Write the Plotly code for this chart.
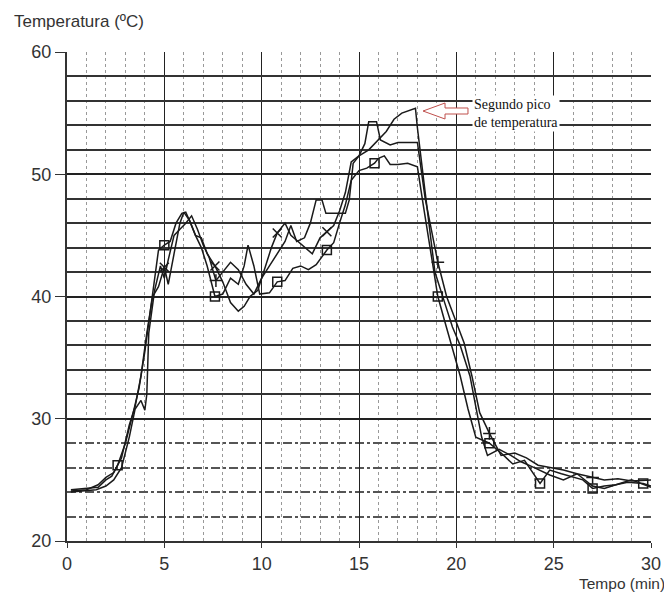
import plotly.graph_objects as go

# Curva con cuadrados
t_cuad = [0.2, 1.0, 1.6, 2.0, 2.3, 2.6, 3.0, 3.4, 3.7, 4.0, 4.3, 4.5, 4.7, 5.0, 5.3, 5.6, 5.9, 6.1, 6.3, 6.6,
          6.9, 7.2, 7.6, 8.0, 8.4, 8.8, 9.1, 9.3, 9.6, 9.9, 10.4, 10.8, 11.2, 11.6, 12.0, 12.4, 12.8, 13.35,
          13.7, 14.0, 14.3, 14.6, 15.0, 15.4, 15.8, 16.0, 16.3, 16.6, 17.0, 17.5, 18.0, 18.3, 18.7, 19.05,
          19.4, 19.8, 20.2, 20.6, 21.0, 21.7, 22.3, 22.9, 23.5, 24.3, 24.8, 25.4, 26.0, 26.5, 27.0, 27.6,
          28.2, 28.8, 29.6, 30.0]
temp_cuad = [24.2, 24.3, 24.4, 25.0, 25.3, 26.2, 28.0, 30.5, 32.5, 35.5, 39.0, 41.5, 43.8, 44.2, 44.5, 46.0, 46.8, 46.9, 46.2, 45.0,
             44.0, 42.5, 40.0, 40.2, 41.5, 41.0, 42.5, 44.2, 42.5, 40.2, 40.3, 41.2, 41.3, 42.3, 42.5, 42.2, 42.6, 43.8,
             44.4, 46.0, 47.5, 49.5, 50.3, 50.5, 50.9, 51.3, 51.5, 50.8, 50.8, 50.9, 50.6, 47.5, 43.5, 40.0,
             38.0, 35.8, 33.5, 30.8, 28.5, 28.0, 27.2, 26.3, 26.6, 24.7, 25.8, 25.5, 25.2, 25.0, 24.3, 24.5,
             24.6, 24.8, 24.7, 24.5]

# Curva con aspas
t_aspa = [0.2, 1.0, 1.6, 2.0, 2.4, 2.8, 3.2, 3.5, 3.8, 4.1, 4.4, 4.7, 5.0, 5.2, 5.5, 5.8, 6.0, 6.3, 6.6, 6.9,
          7.2, 7.6, 8.0, 8.4, 8.8, 9.1, 9.4, 9.8, 10.2, 10.5, 10.8, 11.2, 11.5, 11.8, 12.2, 12.6, 13.0, 13.35, 13.7, 14.0,
          14.3, 14.6, 15.0, 15.5, 16.0, 16.4, 16.8, 17.2, 17.9, 18.0, 18.4, 18.9, 19.4, 19.8, 20.2, 20.7, 21.0, 21.3, 21.6, 22.2,
          22.8, 23.3, 24.0, 24.8, 25.5, 26.2, 27.0, 27.6, 28.4, 29.0, 30.0]
temp_aspa = [24.1, 24.2, 24.6, 25.2, 25.6, 26.8, 29.5, 31.0, 33.5, 37.0, 40.0, 40.8, 42.4, 41.0, 43.5, 46.0, 46.9, 46.2, 45.0, 44.8,
             43.5, 42.5, 41.2, 39.5, 38.8, 39.2, 40.0, 40.5, 42.5, 44.0, 45.2, 46.0, 45.0, 44.6, 44.0, 43.5, 44.8, 45.3, 45.8, 47.0,
             48.5, 51.0, 51.5, 52.0, 52.8, 53.5, 54.5, 55.0, 55.4, 53.8, 48.5, 42.0, 39.5, 37.5, 36.0, 33.5, 31.0, 28.5, 27.0, 27.5,
             27.0, 26.5, 26.0, 25.4, 25.0, 25.5, 24.5, 24.3, 24.7, 25.0, 24.4]

# Curva con cruces
t_cruz = [0.2, 1.0, 1.5, 2.0, 2.4, 2.8, 3.2, 3.5, 3.8, 4.0, 4.1, 4.2, 4.5, 4.8, 5.0, 5.2, 5.5, 5.8, 6.1, 6.4,
          6.7, 7.0, 7.3, 7.65, 8.0, 8.4, 8.8, 9.2, 9.6, 10.0, 10.4, 10.8, 11.2, 11.5, 11.8, 12.2, 12.5, 12.8, 13.1, 13.3,
          14.3, 14.5, 14.7, 15.0, 15.3, 15.5, 15.9, 16.1, 16.6, 17.0, 17.5, 18.0, 18.4, 19.05, 19.5, 20.0, 20.4, 20.8, 21.2, 21.7,
          22.3, 23.0, 23.6, 24.2, 24.8, 25.5, 26.2, 27.0, 27.6, 28.3, 29.0, 30.0]
temp_cruz = [24.0, 24.1, 24.2, 24.5, 25.0, 26.0, 28.5, 30.8, 31.5, 30.7, 32.0, 37.0, 40.5, 42.5, 41.5, 43.0, 45.0, 45.5, 46.0, 46.6,
             45.5, 44.2, 43.2, 41.3, 42.0, 42.8, 42.2, 41.0, 40.2, 41.5, 42.5, 43.5, 44.5, 45.8, 44.5, 44.8, 46.0, 47.9, 47.9, 46.8,
             46.8, 47.9, 50.9, 51.5, 52.5, 54.3, 54.3, 52.8, 52.4, 52.6, 52.6, 52.6, 48.0, 42.8, 40.0, 37.8, 36.2, 33.5, 30.5, 28.8,
             27.0, 27.2, 26.8, 26.2, 26.0, 25.8, 25.5, 25.2, 25.0, 25.1, 24.9, 25.0]

# Marcadores
mt_cuad = [2.6, 5.0, 7.6, 10.8, 13.35, 15.8, 19.05, 21.7, 24.3, 27.0, 29.6]
mv_cuad = [26.2, 44.2, 40.0, 41.2, 43.8, 50.9, 40.0, 28.0, 24.7, 24.3, 24.7]
mt_aspa = [5.0, 7.6, 10.8, 13.35]
mv_aspa = [42.4, 42.5, 45.2, 45.3]
mt_cruz = [7.65, 19.05, 21.7, 27.0]
mv_cruz = [41.3, 42.8, 28.8, 25.2]

x_ticks = [0, 5, 10, 15, 20, 25, 30]
y_ticks = [20, 30, 40, 50, 60]
y_solidas = [32, 34, 36, 38, 42, 44, 46, 48, 52, 54, 56, 58]
y_punteadas = [22, 24, 26, 28]

fig = go.Figure()

negro = "#1a1a1a"
for t, v in [(t_cuad, temp_cuad), (t_aspa, temp_aspa), (t_cruz, temp_cruz)]:
    fig.add_trace(go.Scatter(x=t, y=v, mode="lines", line=dict(color=negro, width=1.5),
                             showlegend=False, hoverinfo="skip"))

# los marcadores van sobre el eje gemelo (mismo rango) para que se dibuje su rejilla
for t, v, simbolo in [(mt_cuad, mv_cuad, "square-open"), (mt_aspa, mv_aspa, "x-thin-open"),
                      (mt_cruz, mv_cruz, "cross-thin-open")]:
    fig.add_trace(go.Scatter(x=t, y=v, mode="markers", showlegend=False, yaxis="y2",
                             marker=dict(symbol=simbolo, size=9, color=negro,
                                         line=dict(color=negro, width=1.5))))

fuente = dict(family="Liberation Sans, Arial", size=18, color="#333")

# la página añade 8 px de margen al cuerpo: se compensa aquí
fig.update_layout(
    width=664, height=591,
    margin=dict(l=59, r=21, t=44, b=58),
    paper_bgcolor="white", plot_bgcolor="white",
    font=fuente,
    xaxis=dict(range=[0, 30], tickvals=x_ticks, showgrid=True, gridcolor="#222", gridwidth=1.3,
               minor=dict(dtick=1, showgrid=True, griddash="dot", gridcolor="#999", gridwidth=1),
               zeroline=False, showline=True, linecolor="#333", linewidth=2,
               ticks="outside", ticklen=5, tickcolor="#333", tickfont=fuente),
    yaxis=dict(range=[20, 60], tickvals=y_ticks, showgrid=True, gridcolor="#222", gridwidth=1.5,
               minor=dict(tickvals=y_punteadas, showgrid=True, griddash="dashdot", gridcolor="#555",
                          gridwidth=1.5, ticks=""),
               zeroline=False, showline=True, linecolor="#333", linewidth=2,
               ticks="outside", ticklen=10, tickcolor="#333", tickfont=fuente),
    yaxis2=dict(range=[20, 60], overlaying="y", tickvals=y_solidas, showgrid=True,
                gridcolor="#333", gridwidth=1.5, showticklabels=False,
                ticks="", zeroline=False, showline=False),
)


def px_a_papel(px, py):
    return (px - 67) / 584, (541 - py) / 489


# Flecha hueca del pico
puntos = [(423, 111), (445, 103), (445, 108), (468, 108), (468, 114), (445, 114), (445, 119)]
ruta = "M " + " L ".join(f"{a:.4f},{b:.4f}" for a, b in (px_a_papel(*p) for p in puntos)) + " Z"
fig.add_shape(type="path", path=ruta, xref="paper", yref="paper",
              line=dict(color="#c0504d", width=1), fillcolor="white")

ax, ay = px_a_papel(472, 114)
fig.add_annotation(text="Segundo pico<br>de temperatura", x=ax, y=ay, xref="paper", yref="paper",
                   xanchor="left", yanchor="middle", showarrow=False, align="left",
                   bgcolor="white", font=dict(family="Liberation Serif", size=14, color="#111"))

tx, ty = px_a_papel(12, 21)
fig.add_annotation(text="Temperatura (ºC)", x=tx, y=ty, xref="paper", yref="paper",
                   xanchor="left", yanchor="middle", showarrow=False,
                   font=dict(family="Liberation Sans, Arial", size=17, color="#333"))

tx, ty = px_a_papel(667, 583)
fig.add_annotation(text="Tempo (min)", x=tx, y=ty, xref="paper", yref="paper",
                   xanchor="right", yanchor="middle", showarrow=False,
                   font=dict(family="Liberation Sans, Arial", size=15.5, color="#333"))

fig.write_html("out.html")
